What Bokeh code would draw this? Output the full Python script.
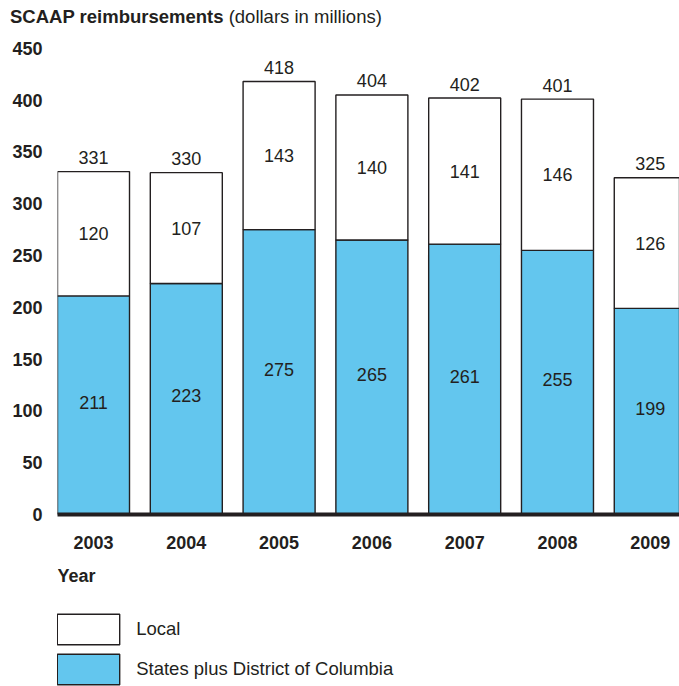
from bokeh.plotting import figure
from bokeh.layouts import column
from bokeh.models import (ColumnDataSource, Range1d, FixedTicker, Legend, LegendItem, Div, Label)
from bokeh.core.properties import value
from bokeh.embed import file_html
from bokeh.resources import INLINE

years = ["2003", "2004", "2005", "2006", "2007", "2008", "2009"]
states = [211, 223, 275, 265, 261, 255, 199]
local = [120, 107, 143, 140, 141, 146, 126]
totals = [331, 330, 418, 404, 402, 401, 325]
y_ticks = [0, 50, 100, 150, 200, 250, 300, 350, 400, 450]
series_names = ["Local", "States plus District of Columbia"]

FONT = "Liberation Sans"
DARK = "#231f20"
BLUE = "#63c6ee"

idx = list(range(len(years)))
src = ColumnDataSource(dict(
    x=idx,
    states=states,
    local=local,
    total=[s + l for s, l in zip(states, local)],
    states_mid=[s / 2 for s in states],
    local_mid=[s + l / 2 for s, l in zip(states, local)],
    states_lbl=[str(v) for v in states],
    local_lbl=[str(v) for v in local],
    total_lbl=[str(v) for v in totals],
))

title = Div(
    text=('<div style="font-family:\'Liberation Sans\';font-size:18.5px;line-height:34px;'
          'color:#231f20;padding-left:10px;margin:0;white-space:nowrap">'
          '<b>SCAAP reimbursements</b> (dollars in millions)</div>'),
    width=679, height=30, margin=0)

p = figure(width=679, height=530, output_backend="svg", toolbar_location=None,
           x_range=Range1d(-0.388, 6.315), y_range=Range1d(0, 467.2),
           min_border_left=57, min_border_right=0, min_border_top=0,
           min_border_bottom=46, margin=0)
p.outline_line_color = None
p.xgrid.grid_line_color = None
p.ygrid.grid_line_color = None
p.background_fill_color = "white"

bar_style_states = dict(fill_color=BLUE, line_color=DARK, line_width=1.4)
bar_style_local = dict(fill_color="white", line_color=DARK, line_width=1.4)

p.vbar(x="x", width=0.776, bottom=0, top="states", source=src, **bar_style_states)
p.vbar(x="x", width=0.776, bottom="states", top="total", source=src, **bar_style_local)

common = dict(text_font=value(FONT), text_font_size="18px", text_color=DARK,
              text_align="center", text_baseline="middle")
p.text(x="x", y="states_mid", text="states_lbl", source=src, y_offset=-3, **common)
p.text(x="x", y="local_mid", text="local_lbl", source=src, **common)
p.text(x="x", y="total", text="total_lbl", source=src, y_offset=-14, **common)

# axes
xa = p.xaxis[0]
xa.ticker = FixedTicker(ticks=idx)
xa.major_label_overrides = {i: y for i, y in zip(idx, years)}
xa.axis_line_width = 4
xa.axis_line_color = DARK
xa.major_tick_line_color = None
xa.minor_tick_line_color = None
xa.major_tick_out = 0
xa.major_tick_in = 0
xa.minor_tick_out = 0
xa.minor_tick_in = 0
xa.major_label_text_font = FONT
xa.major_label_text_font_size = "18px"
xa.major_label_text_font_style = "bold"
xa.major_label_text_color = DARK
xa.major_label_standoff = 21

ya = p.yaxis[0]
ya.ticker = FixedTicker(ticks=y_ticks)
ya.axis_line_color = None
ya.major_tick_line_color = None
ya.minor_tick_line_color = None
ya.major_tick_out = 0
ya.major_tick_in = 0
ya.minor_tick_out = 0
ya.minor_tick_in = 0
ya.major_label_text_font = FONT
ya.major_label_text_font_size = "18px"
ya.major_label_text_font_style = "bold"
ya.major_label_text_color = DARK
ya.major_label_standoff = 15

# lower figure: x-axis title "Year" and the legend
lg = figure(width=679, height=126, output_backend="svg", toolbar_location=None,
            x_range=Range1d(0, 1), y_range=Range1d(0, 1),
            x_axis_location=None, y_axis_location=None,
            min_border_left=0, min_border_right=0, min_border_top=0, min_border_bottom=0,
            margin=0)
lg.outline_line_color = None
lg.xgrid.grid_line_color = None
lg.ygrid.grid_line_color = None
# swatch renderers (hidden; only their legend glyphs are shown)
r_local = lg.vbar(x="x", width=0.776, bottom="states", top="total", source=src,
                  visible=False, **bar_style_local)
r_states = lg.vbar(x="x", width=0.776, bottom=0, top="states", source=src,
                   visible=False, **bar_style_states)

lg.add_layout(Label(x=0, y=111, x_units="screen", y_units="screen", text="Year",
                    text_font=FONT, text_font_size="18px", text_font_style="bold",
                    text_color=DARK, text_baseline="middle", text_align="left"))

legend = Legend(items=[LegendItem(label=series_names[0], renderers=[r_local]),
                       LegendItem(label=series_names[1], renderers=[r_states])],
                location=(-7.8, -2.2), orientation="vertical",
                glyph_width=78, glyph_height=38, spacing=2, label_standoff=9,
                padding=0, margin=0, border_line_color=None, background_fill_alpha=0,
                label_text_font=FONT, label_text_font_size="18.5px", label_text_color=DARK,
                label_height=38)
lg.add_layout(legend, "center")

layout = column(title, p, lg, spacing=0, margin=0)
open("out.html", "w").write(file_html(layout, INLINE))
